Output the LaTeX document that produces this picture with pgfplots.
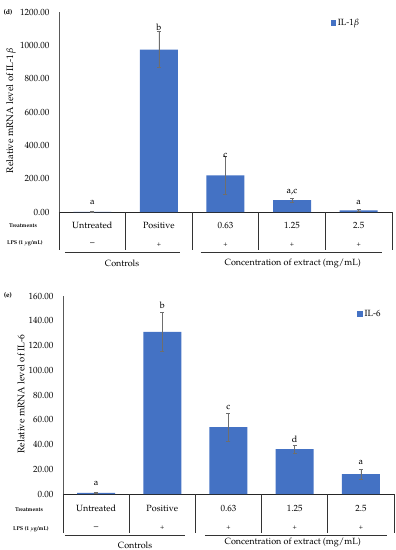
\documentclass[border=0pt]{standalone}
\usepackage[T1]{fontenc}
\usepackage{mathpazo}
\usepackage{pgfplots}
\pgfplotsset{compat=1.18}
\definecolor{barblue}{HTML}{4472C4}
\definecolor{axgray}{HTML}{595959}
\definecolor{errgray}{HTML}{6E6E6E}

\pgfplotstableread{
x y e
0 1 0.5
1 975 108
2 220 112
3 72 13
4 10 5
}\dataIL

\pgfplotstableread{
x y e
0 1 0.3
1 131 16
2 54 11.5
3 36.3 3.3
4 16 4
}\dataIS

\begin{document}
\begin{tikzpicture}[font=\fontsize{9}{11}\selectfont]
\useasboundingbox (0pt,0pt) rectangle (396pt,-550pt);

\pgfplotsset{
  panel/.style={
    scale only axis, ybar, bar width=38pt,
    xmin=-0.5, xmax=4.5, ymin=0,
    axis x line*=bottom, axis y line*=left,
    x axis line style={black!85, line width=0.8pt},
    y axis line style={axgray, line width=0.9pt},
    xtick=\empty,
    major tick length=0pt,
    yticklabel style={font=\fontsize{9}{11}\selectfont, xshift=-6pt,
      /pgf/number format/.cd, fixed, fixed zerofill, precision=2, 1000 sep={}},
    clip=false,
    legend style={draw=none, fill=none, inner sep=0pt, font=\fontsize{9}{11}\selectfont,
      /tikz/every even column/.append style={column sep=2pt}},
    legend image code/.code={\fill[barblue] (0pt,-2.6pt) rectangle (5.2pt,2.6pt);},
  },
  barplot/.style={fill=barblue, draw=none,
    error bars/.cd, y dir=both, y explicit,
    error bar style={errgray, line width=0.6pt},
    error mark options={rotate=90, errgray, mark size=2pt, line width=0.6pt}},
}

% ---------------- panel (d) ----------------
\begin{axis}[panel, at={(59pt,-212pt)}, anchor=south west,
  width=333pt, height=200pt, ymax=1200, ytick={0,200,...,1200},
  legend style={at={(0.815,0.945)}, anchor=west}]
\addplot[barplot] table[x=x, y=y, y error=e] {\dataIL};
\addlegendentry{IL-1$\beta$}
\node[anchor=base] at (axis cs:0,48) {a};
\node[anchor=base] at (axis cs:1,1087) {b};
\node[anchor=base] at (axis cs:2,330) {c};
\node[anchor=base] at (axis cs:3,114) {a,c};
\node[anchor=base] at (axis cs:4,43) {a};
% table
\pgfplotsinvokeforeach{-0.5,0.5,1.5,2.5,3.5,4.5}{
  \draw[black!80, line width=0.6pt] (axis cs:#1,0) -- ([yshift=-38pt]axis cs:#1,0);
}
\node at ([yshift=-13.7pt]axis cs:0,0) {Untreated};
\node at ([yshift=-13.7pt]axis cs:1,0) {Positive};
\node at ([yshift=-13.7pt]axis cs:2,0) {0.63};
\node at ([yshift=-13.7pt]axis cs:3,0) {1.25};
\node at ([yshift=-13.7pt]axis cs:4,0) {2.5};
\node at ([yshift=-32.5pt]axis cs:0,0) {\textendash};
\pgfplotsinvokeforeach{1,2,3,4}{
  \node at ([yshift=-33pt]axis cs:#1,0) {\fontsize{7}{8}\selectfont +};
}
\draw[black!80, line width=0.6pt] ([yshift=-40.5pt]axis cs:-0.41,0) -- ([yshift=-40.5pt]axis cs:1.317,0);
\draw[black!80, line width=0.6pt] ([yshift=-40.5pt]axis cs:1.627,0) -- ([yshift=-40.5pt]axis cs:4.35,0);
\node at ([yshift=-51pt]axis cs:0.446,0) {Controls};
\node at ([yshift=-52pt]axis cs:3.01,0) {Concentration of extract (mg/mL)};
\end{axis}

% ---------------- panel (e) ----------------
\begin{axis}[panel, at={(63pt,-494pt)}, anchor=south west,
  width=331pt, height=198pt, ymax=160, ytick={0,20,...,160},
  legend style={at={(0.889,0.909)}, anchor=west}]
\addplot[barplot] table[x=x, y=y, y error=e] {\dataIS};
\addlegendentry{IL-6}
\node[anchor=base] at (axis cs:0,6.5) {a};
\node[anchor=base] at (axis cs:1,150) {b};
\node[anchor=base] at (axis cs:2,68) {c};
\node[anchor=base] at (axis cs:3,41.5) {d};
\node[anchor=base] at (axis cs:4,23.6) {a};
% table
\pgfplotsinvokeforeach{-0.5,0.5,1.5,2.5,3.5,4.5}{
  \draw[black!80, line width=0.6pt] (axis cs:#1,0) -- ([yshift=-39pt]axis cs:#1,0);
}
\node at ([yshift=-14pt]axis cs:0,0) {Untreated};
\node at ([yshift=-14pt]axis cs:1,0) {Positive};
\node at ([yshift=-14pt]axis cs:2,0) {0.63};
\node at ([yshift=-14pt]axis cs:3,0) {1.25};
\node at ([yshift=-14pt]axis cs:4,0) {2.5};
\node at ([yshift=-34pt]axis cs:0,0) {\textendash};
\pgfplotsinvokeforeach{1,2,3,4}{
  \node at ([yshift=-34pt]axis cs:#1,0) {\fontsize{7}{8}\selectfont +};
}
\draw[black!80, line width=0.6pt] ([yshift=-41.7pt]axis cs:-0.47,0) -- ([yshift=-41.7pt]axis cs:1.343,0);
\draw[black!80, line width=0.6pt] ([yshift=-41.7pt]axis cs:1.645,0) -- ([yshift=-41.7pt]axis cs:4.394,0);
\node at ([yshift=-51pt]axis cs:0.588,0) {Controls};
\node at ([yshift=-49pt]axis cs:2.97,0) {Concentration of extract (mg/mL)};
\end{axis}

% ---------------- outside texts ----------------
\node[font=\fontsize{7}{8}\selectfont\bfseries] at (8pt,-12pt) {(d)};
\node[font=\fontsize{7}{8}\selectfont\bfseries] at (8pt,-295pt) {(e)};
\node[rotate=90, font=\fontsize{9.5}{11}\selectfont] at (11pt,-111pt) {Relative mRNA level of IL-1$\beta$};
\node[rotate=90, font=\fontsize{9.5}{11}\selectfont] at (21pt,-394pt) {Relative mRNA level of IL-6};
\node[anchor=west, font=\fontsize{5.5}{6}\selectfont\bfseries, inner sep=0pt] at (9pt,-225.5pt) {Treatments};
\node[anchor=west, font=\fontsize{5.5}{6}\selectfont\bfseries, inner sep=0pt] at (7pt,-243.5pt) {LPS (1 $\mu$g/mL)};
\node[anchor=west, font=\fontsize{5.5}{6}\selectfont\bfseries, inner sep=0pt] at (15pt,-510pt) {Treatments};
\node[anchor=west, font=\fontsize{5.5}{6}\selectfont\bfseries, inner sep=0pt] at (13pt,-529pt) {LPS (1 $\mu$g/mL)};
\end{tikzpicture}
\end{document}
